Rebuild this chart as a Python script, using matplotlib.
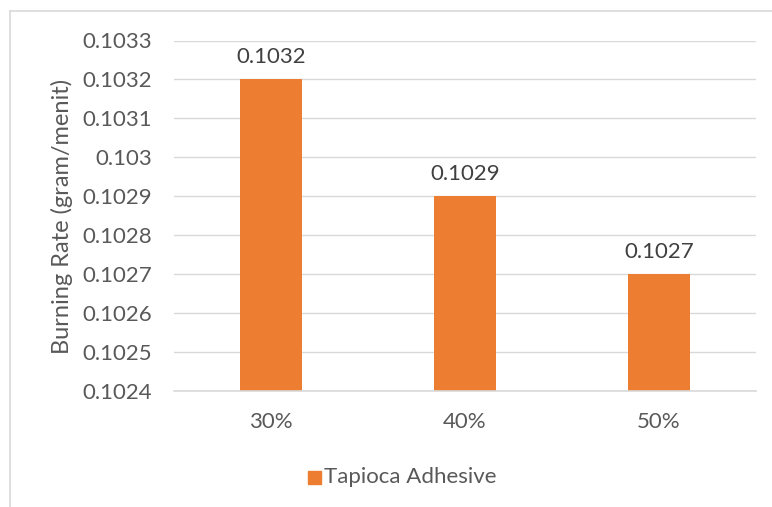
import matplotlib.pyplot as plt
from matplotlib.lines import Line2D
from matplotlib.patches import Rectangle

categories = ['30%', '40%', '50%']
burning_rate = [0.1032, 0.1029, 0.1027]
y_ticks = [0.1024, 0.1025, 0.1026, 0.1027, 0.1028, 0.1029, 0.1030, 0.1031, 0.1032, 0.1033]
series_name = 'Tapioca Adhesive'

ORANGE = '#ED7D31'
GRID = '#D9D9D9'
TEXT = '#595959'

def excel_fmt(v):
    return f'{v:.4f}'.rstrip('0')

plt.rcParams['font.family'] = ['Lato', 'DejaVu Sans']

fig = plt.figure(figsize=(7.72, 5.07), dpi=100)
ax = fig.add_axes([174 / 772, 1 - 391 / 507, (756 - 174) / 772, (391 - 40.5) / 507])

x = list(range(len(categories)))
ax.bar(x, burning_rate, width=0.32, color=ORANGE, zorder=3)

for xi, v in zip(x, burning_rate):
    ax.annotate(excel_fmt(v), (xi, v), xytext=(0, 9), textcoords='offset points',
                ha='center', va='bottom', fontsize=16, color='#404040')

ax.set_xlim(-0.5, len(categories) - 0.5)
ax.set_ylim(y_ticks[0], y_ticks[-1])
ax.set_yticks(y_ticks)
ax.set_yticklabels([excel_fmt(v) for v in y_ticks])
ax.set_xticks(x)
ax.set_xticklabels(categories)
ax.tick_params(axis='both', length=0, labelsize=16, labelcolor=TEXT)
ax.tick_params(axis='y', pad=16)
ax.tick_params(axis='x', pad=15)
ax.grid(axis='y', color=GRID, linewidth=1.0, zorder=0)
for s in ['top', 'right', 'left']:
    ax.spines[s].set_visible(False)
ax.spines['bottom'].set_color(GRID)
ax.spines['bottom'].set_linewidth(1.2)
ax.spines['bottom'].set_zorder(4)

fig.text(62 / 772, 1 - 216 / 507, 'Burning Rate (gram/menit)', rotation=90,
         ha='center', va='center', fontsize=17, color=TEXT)

# legend
fig.patches.append(Rectangle((308 / 772, 1 - 484 / 507), 13 / 772, 13 / 507,
                             transform=fig.transFigure, color=ORANGE))
fig.text(324 / 772, 1 - 477 / 507, series_name, ha='left', va='center',
         fontsize=16, color=TEXT)

# chart-area border (top and left visible)
fig.add_artist(Line2D([10 / 772, 1], [1 - 11 / 507] * 2, transform=fig.transFigure,
                      color='#D9D9D9', linewidth=1.2))
fig.add_artist(Line2D([10 / 772] * 2, [0, 1 - 11 / 507], transform=fig.transFigure,
                      color='#D9D9D9', linewidth=1.2))

fig.savefig('out.png', dpi=100)
